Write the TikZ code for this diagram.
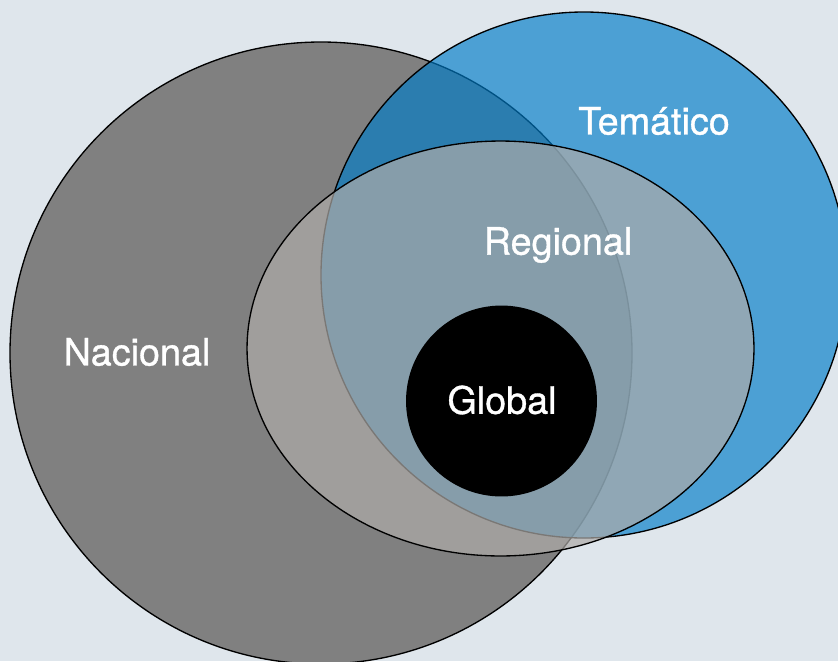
\documentclass[tikz,border=0pt]{standalone}
\usepackage{fontspec}
\setmainfont{TeX Gyre Heros}
\newfontfamily\lblfont[FakeBold=0.9]{TeX Gyre Heros}
\definecolor{bgc}{RGB}{223,230,236}
\definecolor{nacc}{RGB}{128,128,128}
\definecolor{temc}{RGB}{0,124,200}
\definecolor{regc}{RGB}{174,171,168}
\tikzset{
  setline/.style={draw=black, line width=1pt},
  lbl/.style={text=white, font=\lblfont\fontsize{28.3}{34}\selectfont, inner sep=0pt}
}
\begin{document}
\begin{tikzpicture}[x=0.75pt,y=-0.75pt]
\fill[bgc] (0,0) rectangle (838,661);
\useasboundingbox (0,0) rectangle (838,661);
\clip (0,0) rectangle (838,661);
% Nacional
\path[setline, fill=nacc] (321,353) circle[radius=233.25pt];
% Tematico
\path[setline, fill=temc, fill opacity=0.66] (584,275) circle[radius=197.25pt];
% Regional
\path[setline, fill=regc, fill opacity=0.7] (500.5,348.5) ellipse[x radius=190.1pt, y radius=155.6pt];
% Global
\path[fill=black] (501.5,401) circle[radius=71.6pt];
\node[lbl] (nac) at (137,352) {Nacional};
\node[lbl] (tem) at (654,121) {Temático};
\node[lbl] (reg) at (558,245) {Regional};
\node[lbl] (glo) at (502,400) {Global};
\end{tikzpicture}
\end{document}
